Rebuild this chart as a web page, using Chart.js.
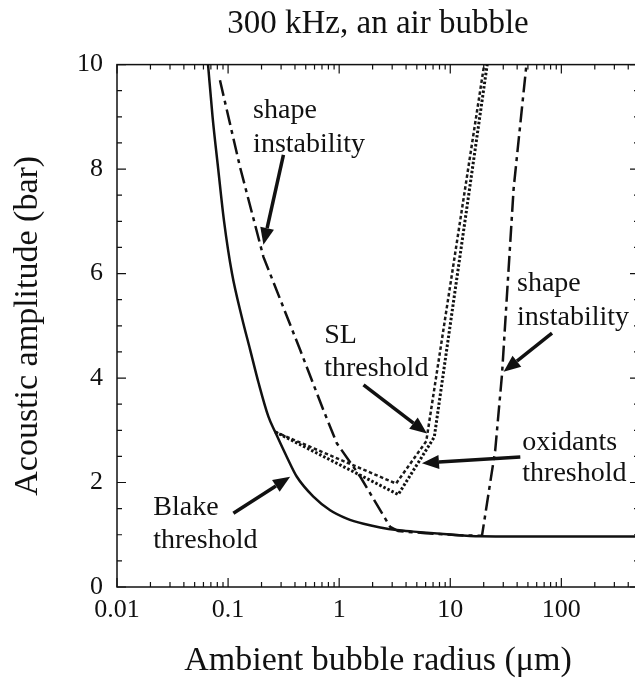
<!DOCTYPE html>
<html>
<head>
<meta charset="utf-8">
<script src="https://cdn.jsdelivr.net/npm/chart.js@4.4.1/dist/chart.umd.min.js"></script>
<style>
	html, body { margin: 0; padding: 0; background: #fff; overflow: hidden; }
	#wrap { width: 645px; height: 681px; }
</style>
</head>
<body>
<div id="wrap"><canvas id="chart" width="645" height="681"></canvas></div>
<script>
// axis ticks
const xTickValues = [0.01, 0.1, 1, 10, 100];
const xTickLabels = ['0.01', '0.1', '1', '10', '100'];
const yTickValues = [0, 2, 4, 6, 8, 10];
const yTickLabels = ['0', '2', '4', '6', '8', '10'];

// Blake threshold (solid)
const blakeRadius = [0.066, 0.0725, 0.0815, 0.092, 0.1085, 0.1328, 0.158, 0.1885, 0.2307, 0.265, 0.338, 0.416, 0.586, 0.829, 1.172, 1.655, 2.34, 3.31, 4.67, 9.33, 18.6, 40, 500];
const blakeAmp = [10, 9, 8, 7, 6, 5.17, 4.54, 3.9, 3.26, 2.97, 2.49, 2.11, 1.73, 1.47, 1.31, 1.21, 1.14, 1.09, 1.06, 1.01, 0.97, 0.965, 0.965];

// shape instability (dash-dot), left branch, bottom, right branch
const shapeRadius = [0.0845, 0.128, 0.208, 0.445, 0.72, 0.953, 1.55, 2.88, 3.4, 6, 12, 19.3, 25.4, 29.2, 37.2, 48.5];
const shapeAmp = [9.7, 8.04, 6.32, 4.54, 3.39, 2.75, 2.11, 1.15, 1.07, 1.03, 0.99, 0.98, 2.62, 4.06, 7.63, 10];

// SL threshold (dotted)
const slRadius = [0.265, 3.4, 7.18, 21.5];
const slAmp = [2.97, 1.77, 2.87, 10];

// oxidants threshold (fine dashes)
const oxRadius = [0.265, 3.25, 6.08, 20.2];
const oxAmp = [2.97, 1.98, 2.79, 10];

const serif = "'Liberation Serif', 'Times New Roman', serif";

function pts(xs, ys) {
	return xs.map((x, i) => ({ x, y: ys[i] }));
}

// labels and arrows, in data units
const notes = [
	{ lines: ['shape', 'instability'], x: 0.168, y: [8.98, 8.33], from: [0.315, 8.27], to: [0.208, 6.55] },
	{ lines: ['SL', 'threshold'], x: 0.733, y: [4.67, 4.04], from: [1.656, 3.87], to: [6.17, 2.94] },
	{ lines: ['shape', 'instability'], x: 39.9, y: [5.67, 5.01], from: [82.4, 4.86], to: [30.2, 4.12] },
	{ lines: ['oxidants', 'threshold'], x: 44.5, y: [2.62, 2.02], from: [42.7, 2.49], to: [5.56, 2.37] },
	{ lines: ['Blake', 'threshold'], x: 0.0212, y: [1.38, 0.74], from: [0.1116, 1.41], to: [0.362, 2.11] }
];

const framePlugin = {
	id: 'frame',
	afterDraw(chart) {
		const { ctx, chartArea: a, scales } = chart;
		const xs = scales.x, ys = scales.y;
		ctx.save();
		ctx.strokeStyle = '#111';
		ctx.lineWidth = 1.5;
		ctx.strokeRect(a.left, a.top, a.right - a.left, a.bottom - a.top);
		ctx.lineWidth = 1.2;
		ctx.beginPath();
		// log ticks on bottom and top
		for (let d = 0.01; d <= 100; d *= 10) {
			for (let k = 1; k <= 9; k++) {
				const v = d * k;
				if (v > xs.max) break;
				const px = xs.getPixelForValue(v);
				const len = k === 1 ? 9 : 5;
				ctx.moveTo(px, a.bottom); ctx.lineTo(px, a.bottom - len);
				ctx.moveTo(px, a.top); ctx.lineTo(px, a.top + len);
			}
		}
		// linear ticks on left and right
		for (let v = 0; v <= 10; v += 0.5) {
			const py = ys.getPixelForValue(v);
			const len = v % 2 === 0 ? 9 : 5;
			ctx.moveTo(a.left, py); ctx.lineTo(a.left + len, py);
			ctx.moveTo(a.right, py); ctx.lineTo(a.right - len, py);
		}
		ctx.stroke();
		ctx.restore();
	}
};

const notePlugin = {
	id: 'notes',
	afterDatasetsDraw(chart) {
		const { ctx, scales } = chart;
		const xs = scales.x, ys = scales.y;
		ctx.save();
		ctx.fillStyle = '#111';
		ctx.strokeStyle = '#111';
		ctx.font = '28px ' + serif;
		ctx.textAlign = 'left';
		ctx.textBaseline = 'alphabetic';
		notes.forEach(n => {
			n.lines.forEach((t, i) => {
				ctx.fillText(t, xs.getPixelForValue(n.x), ys.getPixelForValue(n.y[i]));
			});
			const x0 = xs.getPixelForValue(n.from[0]), y0 = ys.getPixelForValue(n.from[1]);
			const x1 = xs.getPixelForValue(n.to[0]), y1 = ys.getPixelForValue(n.to[1]);
			const ang = Math.atan2(y1 - y0, x1 - x0);
			const head = 17, half = 7;
			const bx = x1 - head * Math.cos(ang), by = y1 - head * Math.sin(ang);
			ctx.lineWidth = 3.5;
			ctx.beginPath();
			ctx.moveTo(x0, y0);
			ctx.lineTo(bx, by);
			ctx.stroke();
			ctx.beginPath();
			ctx.moveTo(x1, y1);
			ctx.lineTo(bx + half * Math.sin(ang), by - half * Math.cos(ang));
			ctx.lineTo(bx - half * Math.sin(ang), by + half * Math.cos(ang));
			ctx.closePath();
			ctx.fill();
		});
		ctx.restore();
	}
};

new Chart(document.getElementById('chart'), {
	type: 'line',
	data: {
		datasets: [
			{
				label: 'Blake threshold',
				data: pts(blakeRadius, blakeAmp),
				borderColor: '#111',
				borderWidth: 2.5,
				cubicInterpolationMode: 'monotone',
				pointRadius: 0
			},
			{
				label: 'shape instability',
				data: pts(shapeRadius, shapeAmp),
				borderColor: '#111',
				borderWidth: 2.5,
				borderDash: [16, 5, 4, 5],
				pointRadius: 0
			},
			{
				label: 'SL threshold',
				data: pts(slRadius, slAmp),
				borderColor: '#111',
				borderWidth: 3,
				borderDash: [2.5, 2],
				pointRadius: 0
			},
			{
				label: 'oxidants threshold',
				data: pts(oxRadius, oxAmp),
				borderColor: '#1a1a1a',
				borderWidth: 2.5,
				borderDash: [3.5, 2.5],
				pointRadius: 0
			}
		]
	},
	options: {
		responsive: false,
		animation: false,
		layout: { padding: { left: 0, right: 6, top: 5, bottom: 0 } },
		plugins: {
			legend: { display: false },
			tooltip: { enabled: false },
			title: {
				display: true,
				text: '300 kHz, an air bubble',
				color: '#111',
				fullSize: false,
				font: { family: serif, size: 33, weight: 'normal' },
				padding: { top: 0, bottom: 20 }
			}
		},
		scales: {
			x: {
				type: 'logarithmic',
				position: 'bottom',
				min: 0.01,
				max: 500,
				afterBuildTicks: s => { s.ticks = xTickValues.map(v => ({ value: v })); },
				afterFit: s => { s.height = 94; },
				grid: { display: false, drawTicks: false },
				border: { display: false },
				ticks: {
					autoSkip: false,
					maxRotation: 0,
					color: '#111',
					padding: 8,
					font: { family: serif, size: 26 },
					callback: (v, i) => xTickLabels[i]
				},
				title: {
					display: true,
					text: 'Ambient bubble radius (μm)',
					color: '#111',
					font: { family: serif, size: 34 },
					padding: { top: 0, bottom: 0 }
				}
			},
			y: {
				type: 'linear',
				min: 0,
				max: 10,
				afterBuildTicks: s => { s.ticks = yTickValues.map(v => ({ value: v })); },
				afterFit: s => { s.width = 117; },
				grid: { display: false, drawTicks: false },
				border: { display: false },
				ticks: {
					color: '#111',
					padding: 14,
					font: { family: serif, size: 26 },
					callback: (v, i) => yTickLabels[i]
				},
				title: {
					display: true,
					text: 'Acoustic amplitude (bar)',
					color: '#111',
					font: { family: serif, size: 34 },
					padding: { top: 8, bottom: 0 }
				}
			}
		}
	},
	plugins: [framePlugin, notePlugin]
});
</script>
</body>
</html>
